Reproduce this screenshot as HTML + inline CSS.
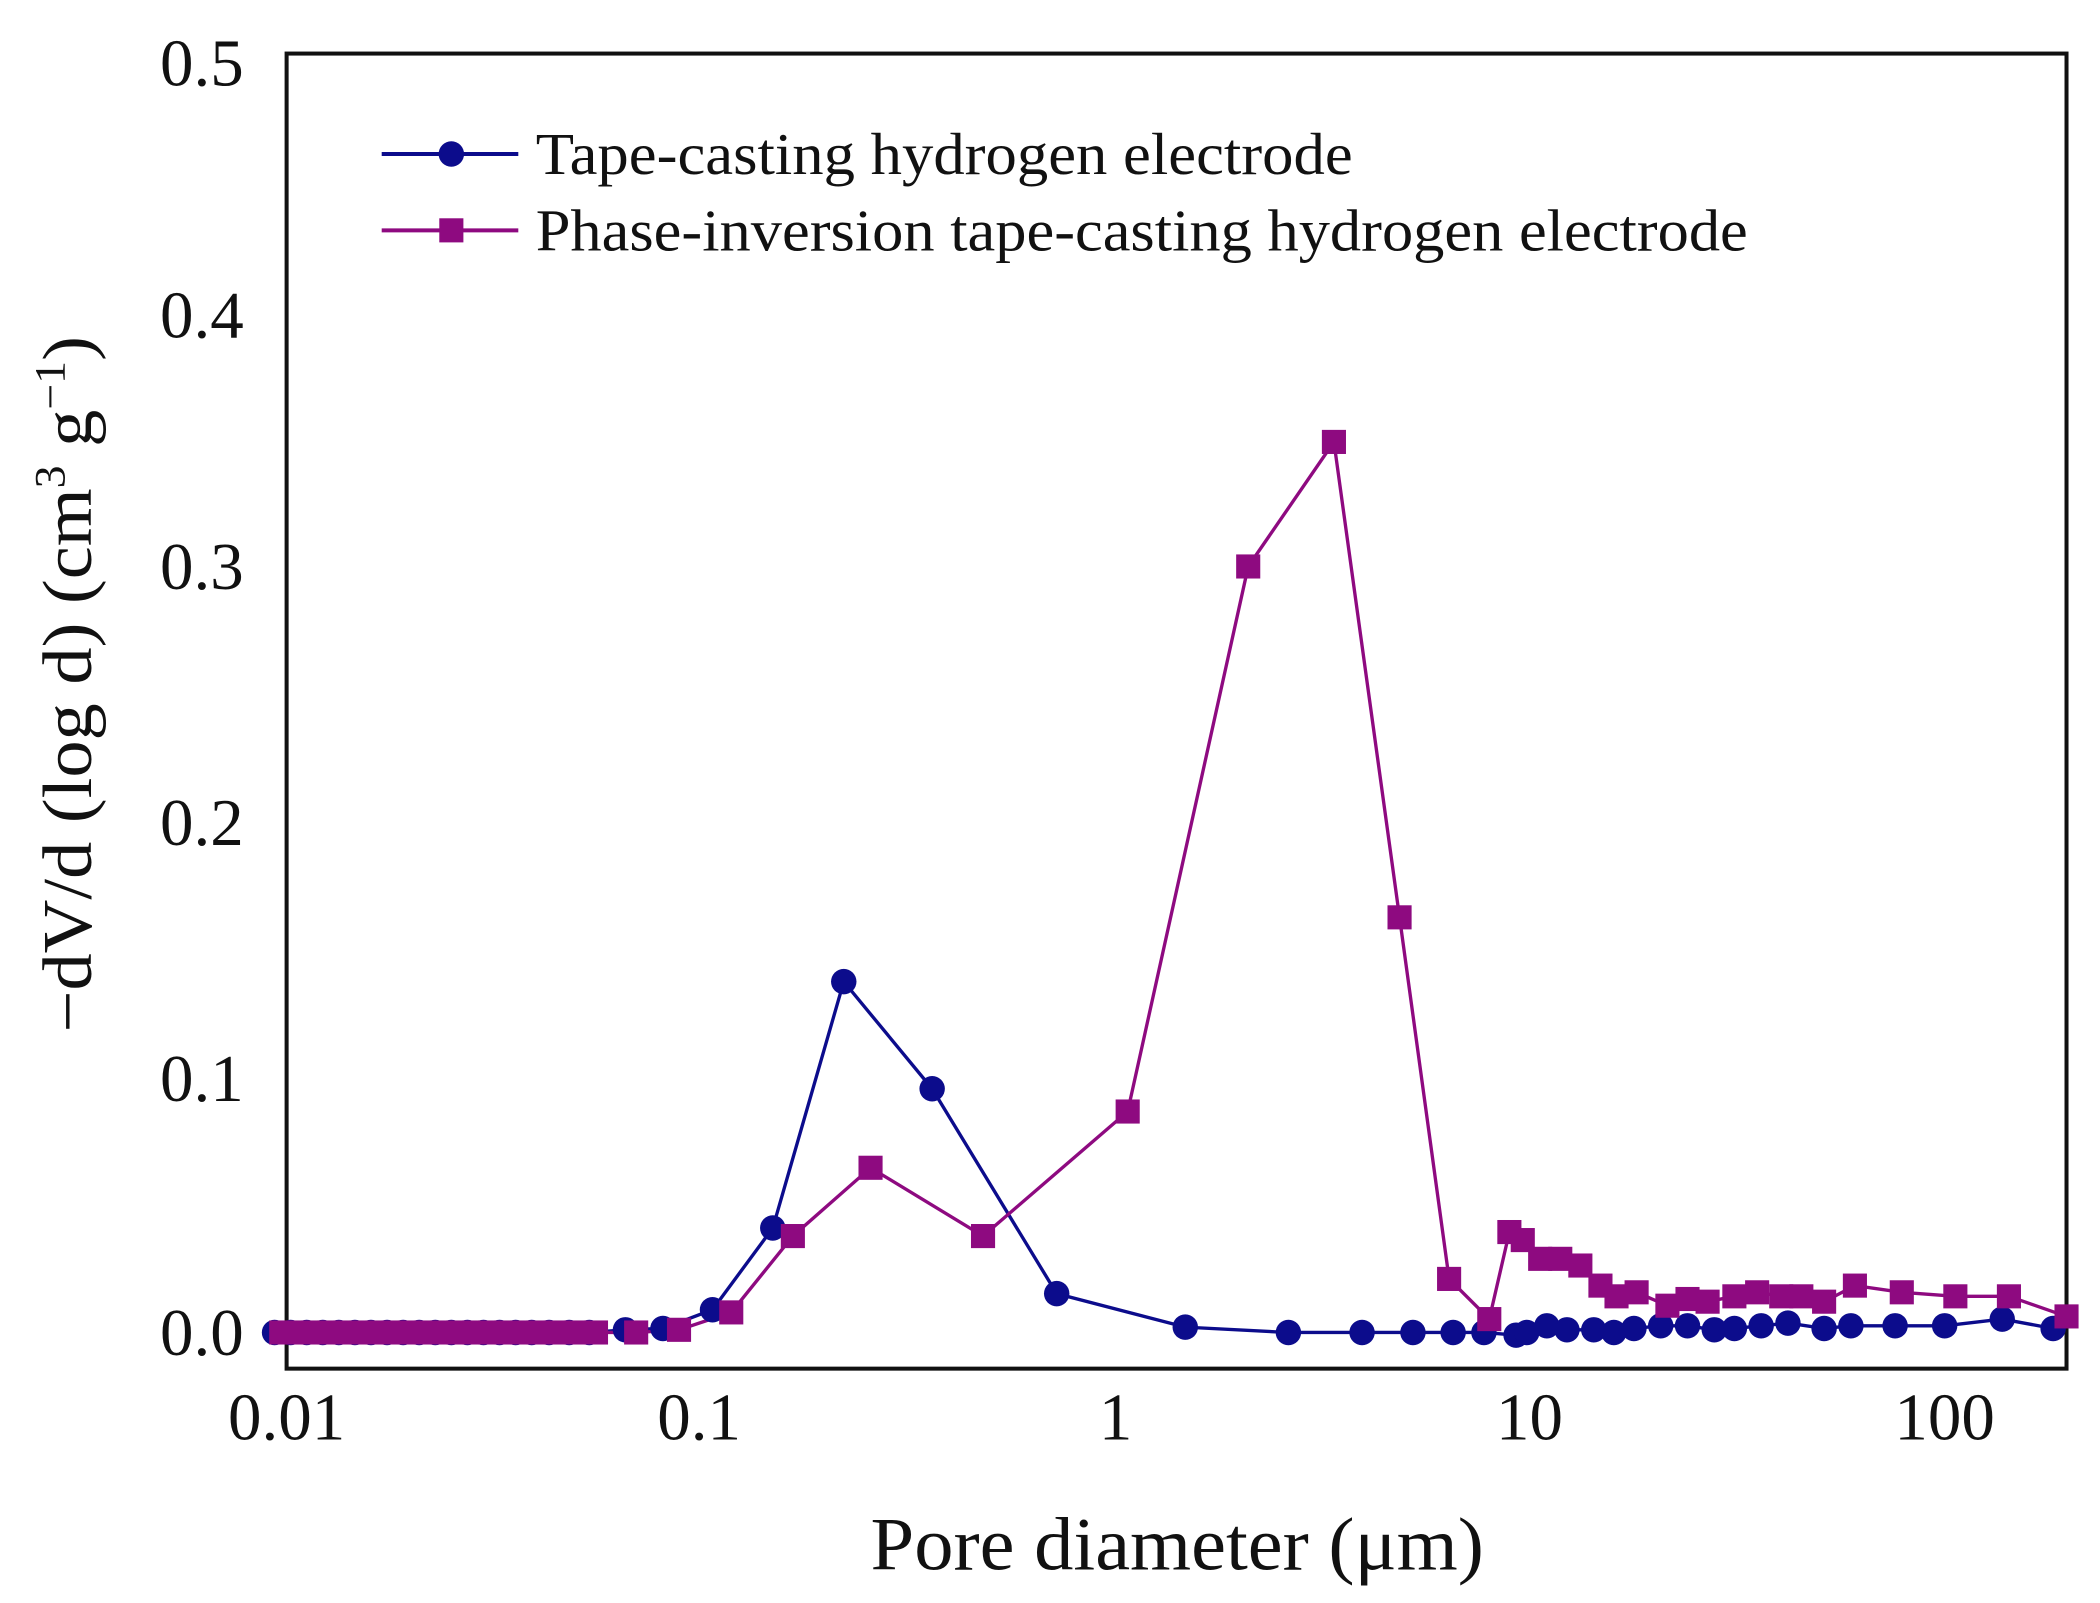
<!DOCTYPE html>
<html><head><meta charset="utf-8"><style>
html,body{margin:0;padding:0;background:#fff;}
svg{display:block;}
text{font-family:"Liberation Serif",serif;fill:#111;}
</style></head><body>
<svg width="2100" height="1603" viewBox="0 0 1568 1197" preserveAspectRatio="none" xmlns="http://www.w3.org/2000/svg">
<defs>
<circle id="c" r="9.5" fill="#0c0c8c"/>
<rect id="s" x="-9" y="-9" width="18" height="18" fill="#8e0a80"/>
</defs>
<rect x="214" y="40" width="1329" height="982" fill="none" stroke="#111" stroke-width="3"/>
<g font-size="50" text-anchor="end">
<text x="182" y="1012">0.0</text>
<text x="182" y="822">0.1</text>
<text x="182" y="631">0.2</text>
<text x="182" y="440">0.3</text>
<text x="182" y="252">0.4</text>
<text x="182" y="64">0.5</text>
</g>
<g font-size="50" text-anchor="middle">
<text x="214" y="1075">0.01</text>
<text x="522" y="1075">0.1</text>
<text x="833" y="1075">1</text>
<text x="1142" y="1075">10</text>
<text x="1452" y="1075">100</text>
</g>
<text x="650" y="1172" font-size="56" textLength="458" lengthAdjust="spacingAndGlyphs">Pore diameter (μm)</text>
<text transform="translate(68,771) rotate(-90)" font-size="52" textLength="520" lengthAdjust="spacingAndGlyphs">−dV/d (log d) (cm<tspan font-size="32" dy="-20">3</tspan><tspan dy="20"> g</tspan><tspan font-size="32" dy="-20">−1</tspan><tspan dy="20">)</tspan></text>
<line x1="285" y1="115" x2="387" y2="115" stroke="#0c0c8c" stroke-width="3"/>
<use href="#c" x="337" y="115"/>
<text x="400" y="130" font-size="44" textLength="610" lengthAdjust="spacingAndGlyphs">Tape-casting hydrogen electrode</text>
<line x1="285" y1="172" x2="387" y2="172" stroke="#8e0a80" stroke-width="3"/>
<use href="#s" x="337" y="172"/>
<text x="400" y="187" font-size="44" textLength="905" lengthAdjust="spacingAndGlyphs">Phase-inversion tape-casting hydrogen electrode</text>

<polyline fill="none" stroke="#0c0c8c" stroke-width="2.5" points="205,995 440,995 467,993 495,992 532,978 577,917 630,733 696,813 789,966 885,991 962,995 1017,995 1055,995 1085,995 1108,995 1132,997 1140,995 1155,990 1170,993 1190,993 1205,995 1220,992 1240,990 1260,990 1280,993 1295,992 1315,990 1335,988 1362,992 1382,990 1415,990 1452,990 1495,985 1533,992"/>
<polyline fill="none" stroke="#8e0a80" stroke-width="2.5" points="205,995 440,995 475,995 507,993 546,980 592,923 650,872 734,923 842,830 932,423 996,330 1045,685 1082,955 1112,985 1127,920 1137,926 1150,940 1165,940 1180,945 1195,960 1207,968 1222,965 1245,975 1260,970 1275,972 1295,968 1312,965 1330,968 1345,968 1362,972 1385,960 1420,965 1460,968 1500,968 1543,983"/>
<g>
<use href="#c" x="205" y="995"/><use href="#c" x="217" y="995"/><use href="#c" x="229" y="995"/><use href="#c" x="241" y="995"/><use href="#c" x="253" y="995"/><use href="#c" x="265" y="995"/><use href="#c" x="277" y="995"/><use href="#c" x="289" y="995"/><use href="#c" x="301" y="995"/><use href="#c" x="313" y="995"/><use href="#c" x="325" y="995"/><use href="#c" x="337" y="995"/><use href="#c" x="349" y="995"/><use href="#c" x="361" y="995"/><use href="#c" x="373" y="995"/><use href="#c" x="385" y="995"/><use href="#c" x="397" y="995"/><use href="#c" x="410" y="995"/><use href="#c" x="425" y="995"/><use href="#c" x="440" y="995"/>
<use href="#c" x="467" y="993"/><use href="#c" x="495" y="992"/><use href="#c" x="532" y="978"/><use href="#c" x="577" y="917"/><use href="#c" x="630" y="733"/><use href="#c" x="696" y="813"/><use href="#c" x="789" y="966"/><use href="#c" x="885" y="991"/><use href="#c" x="962" y="995"/><use href="#c" x="1017" y="995"/><use href="#c" x="1055" y="995"/><use href="#c" x="1085" y="995"/><use href="#c" x="1108" y="995"/><use href="#c" x="1132" y="997"/><use href="#c" x="1140" y="995"/><use href="#c" x="1155" y="990"/><use href="#c" x="1170" y="993"/><use href="#c" x="1190" y="993"/><use href="#c" x="1205" y="995"/><use href="#c" x="1220" y="992"/><use href="#c" x="1240" y="990"/><use href="#c" x="1260" y="990"/><use href="#c" x="1280" y="993"/><use href="#c" x="1295" y="992"/><use href="#c" x="1315" y="990"/><use href="#c" x="1335" y="988"/><use href="#c" x="1362" y="992"/><use href="#c" x="1382" y="990"/><use href="#c" x="1415" y="990"/><use href="#c" x="1452" y="990"/><use href="#c" x="1495" y="985"/><use href="#c" x="1533" y="992"/>
</g>
<g>
<use href="#s" x="210" y="995"/><use href="#s" x="222" y="995"/><use href="#s" x="234" y="995"/><use href="#s" x="246" y="995"/><use href="#s" x="258" y="995"/><use href="#s" x="270" y="995"/><use href="#s" x="282" y="995"/><use href="#s" x="294" y="995"/><use href="#s" x="306" y="995"/><use href="#s" x="318" y="995"/><use href="#s" x="330" y="995"/><use href="#s" x="342" y="995"/><use href="#s" x="354" y="995"/><use href="#s" x="366" y="995"/><use href="#s" x="378" y="995"/><use href="#s" x="390" y="995"/><use href="#s" x="402" y="995"/><use href="#s" x="415" y="995"/><use href="#s" x="430" y="995"/><use href="#s" x="445" y="995"/>
<use href="#s" x="475" y="995"/><use href="#s" x="507" y="993"/><use href="#s" x="546" y="980"/><use href="#s" x="592" y="923"/><use href="#s" x="650" y="872"/><use href="#s" x="734" y="923"/><use href="#s" x="842" y="830"/><use href="#s" x="932" y="423"/><use href="#s" x="996" y="330"/><use href="#s" x="1045" y="685"/><use href="#s" x="1082" y="955"/><use href="#s" x="1112" y="985"/><use href="#s" x="1127" y="920"/><use href="#s" x="1137" y="926"/><use href="#s" x="1150" y="940"/><use href="#s" x="1165" y="940"/><use href="#s" x="1180" y="945"/><use href="#s" x="1195" y="960"/><use href="#s" x="1207" y="968"/><use href="#s" x="1222" y="965"/><use href="#s" x="1245" y="975"/><use href="#s" x="1260" y="970"/><use href="#s" x="1275" y="972"/><use href="#s" x="1295" y="968"/><use href="#s" x="1312" y="965"/><use href="#s" x="1330" y="968"/><use href="#s" x="1345" y="968"/><use href="#s" x="1362" y="972"/><use href="#s" x="1385" y="960"/><use href="#s" x="1420" y="965"/><use href="#s" x="1460" y="968"/><use href="#s" x="1500" y="968"/><use href="#s" x="1543" y="983"/>
</g>
</svg>
</body></html>
